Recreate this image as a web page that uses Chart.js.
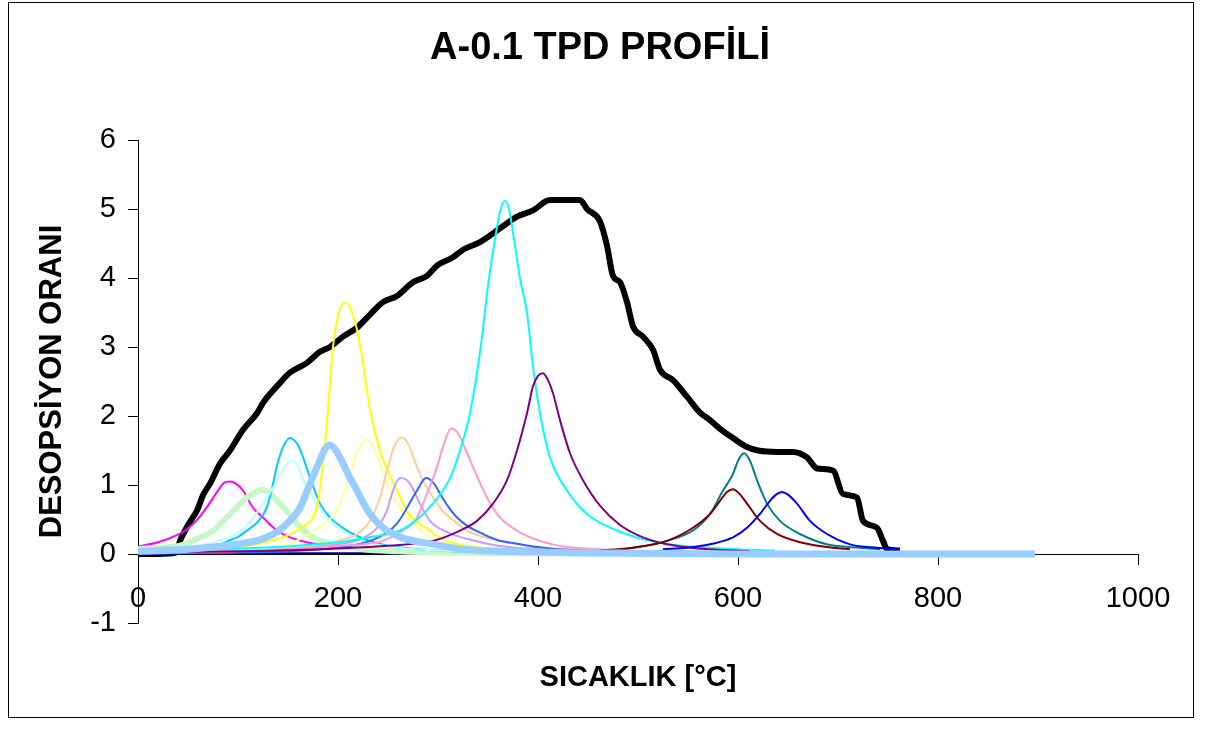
<!DOCTYPE html>
<html>
<head>
<meta charset="utf-8">
<script src="https://cdn.jsdelivr.net/npm/chart.js@4.4.1/dist/chart.umd.min.js"></script>
<style>
  body { margin: 0; background: #fff; }
  canvas { display: block; }
</style>
</head>
<body>
<canvas id="tpdChart" width="1216" height="729"></canvas>
<script>
// temperatures (°C) and desorption rates, one pair per curve
const totalT = [0, 20, 38, 42, 50, 59, 65, 72, 82, 92, 105, 119, 125, 142, 152, 169, 182, 192, 205, 219, 232, 245, 259, 275, 289, 299, 315, 325, 342, 362, 379, 395, 412, 442, 449, 462, 469, 475, 482, 489, 495, 505, 515, 522, 535, 549, 562, 572, 585, 595, 609, 620, 640, 655, 669, 679, 695, 705, 719, 725, 739, 745, 749, 762];
const totalY = [0, 0, 0.02, 0.19, 0.42, 0.63, 0.85, 1.02, 1.31, 1.5, 1.8, 2.04, 2.19, 2.48, 2.63, 2.77, 2.93, 3.0, 3.15, 3.28, 3.47, 3.65, 3.74, 3.94, 4.03, 4.18, 4.3, 4.41, 4.52, 4.72, 4.89, 4.98, 5.13, 5.13, 5.0, 4.82, 4.47, 4.03, 3.94, 3.65, 3.3, 3.15, 2.96, 2.67, 2.52, 2.28, 2.05, 1.94, 1.78, 1.68, 1.55, 1.5, 1.48, 1.48, 1.4, 1.24, 1.21, 0.87, 0.82, 0.48, 0.38, 0.19, 0.07, 0.05];

const magentaT = [0, 20, 40, 50, 60, 70, 80, 86, 92, 98, 105, 115, 125, 139, 152, 172, 200, 240, 300, 360];
const magentaY = [0.11, 0.17, 0.28, 0.37, 0.51, 0.7, 0.92, 1.03, 1.05, 1.02, 0.92, 0.67, 0.53, 0.34, 0.24, 0.16, 0.1, 0.06, 0.03, 0.02];

const greenT = [0, 20, 42, 59, 75, 92, 109, 118, 124, 130, 142, 150, 159, 175, 192, 225, 260, 300, 400, 500, 600, 750, 897];
const greenY = [0.07, 0.09, 0.12, 0.22, 0.34, 0.58, 0.82, 0.9, 0.93, 0.9, 0.73, 0.6, 0.44, 0.24, 0.15, 0.07, 0.04, 0.02, 0.01, 0, 0, 0, 0];

const skyT = [0, 40, 60, 80, 92, 100, 109, 120, 129, 134, 139, 145, 152, 158, 162, 172, 182, 192, 209, 230, 250, 300, 400, 500];
const skyY = [0.03, 0.06, 0.08, 0.13, 0.2, 0.25, 0.34, 0.47, 0.68, 0.95, 1.28, 1.55, 1.68, 1.62, 1.52, 1.11, 0.73, 0.53, 0.34, 0.2, 0.12, 0.05, 0.02, 0.01];

const paleCyanT = [0, 40, 60, 80, 100, 110, 125, 135, 145, 153, 160, 165, 172, 179, 192, 200, 220, 250, 300, 400, 500];
const paleCyanY = [0.05, 0.08, 0.12, 0.19, 0.31, 0.43, 0.73, 0.96, 1.22, 1.36, 1.28, 1.07, 0.9, 0.73, 0.48, 0.38, 0.21, 0.11, 0.05, 0.02, 0.01];

const yellowT = [0, 50, 92, 125, 140, 150, 159, 169, 175, 180, 184, 189, 195, 202, 208, 214, 219, 225, 232, 242, 250, 259, 270, 280, 292, 300, 320, 350, 400, 500, 600];
const yellowY = [0.03, 0.05, 0.09, 0.16, 0.22, 0.27, 0.34, 0.44, 0.52, 0.75, 1.2, 1.9, 3.0, 3.55, 3.64, 3.5, 3.25, 2.77, 2.09, 1.5, 1.2, 0.92, 0.6, 0.45, 0.34, 0.25, 0.14, 0.08, 0.05, 0.02, 0.01];

const lightBlueT = [0, 50, 92, 125, 140, 149, 162, 172, 182, 187, 192, 198, 205, 212, 219, 225, 232, 245, 265, 292, 325, 400, 500, 600, 700, 800, 897];
const lightBlueY = [0.04, 0.07, 0.13, 0.22, 0.33, 0.44, 0.67, 1.02, 1.36, 1.52, 1.58, 1.5, 1.31, 1.1, 0.92, 0.75, 0.58, 0.38, 0.23, 0.15, 0.07, 0.03, 0.01, 0, 0, 0, 0];

const paleYellowT = [0, 100, 150, 165, 182, 190, 199, 209, 220, 228, 235, 239, 249, 259, 275, 300, 330, 400, 500];
const paleYellowY = [0.02, 0.06, 0.14, 0.24, 0.38, 0.48, 0.63, 1.02, 1.5, 1.66, 1.55, 1.4, 1.02, 0.73, 0.44, 0.17, 0.09, 0.03, 0.01];

const peachT = [0, 100, 150, 180, 200, 219, 232, 242, 249, 256, 264, 270, 279, 288, 295, 305, 312, 329, 362, 400, 450, 500, 600];
const peachY = [0.02, 0.04, 0.08, 0.12, 0.19, 0.29, 0.48, 0.82, 1.21, 1.55, 1.69, 1.6, 1.26, 0.98, 0.82, 0.62, 0.53, 0.34, 0.19, 0.1, 0.05, 0.03, 0.01];

const lavenderT = [0, 100, 150, 200, 220, 230, 239, 249, 255, 262, 268, 272, 282, 292, 312, 329, 360, 400, 500, 600];
const lavenderY = [0.01, 0.03, 0.06, 0.14, 0.2, 0.27, 0.38, 0.63, 0.92, 1.1, 1.08, 1.02, 0.73, 0.48, 0.3, 0.22, 0.12, 0.07, 0.02, 0.01];

const royalT = [0, 100, 150, 200, 220, 239, 255, 262, 269, 279, 288, 296, 305, 312, 319, 330, 345, 360, 379, 395, 430, 500, 600];
const royalY = [0.01, 0.02, 0.04, 0.09, 0.14, 0.23, 0.38, 0.5, 0.67, 0.92, 1.1, 1.02, 0.8, 0.65, 0.53, 0.4, 0.29, 0.2, 0.15, 0.11, 0.06, 0.03, 0.01];

const pinkT = [0, 100, 150, 200, 230, 245, 265, 279, 289, 299, 306, 313, 320, 328, 335, 349, 362, 379, 402, 429, 462, 500, 600];
const pinkY = [0.02, 0.04, 0.07, 0.12, 0.15, 0.19, 0.34, 0.53, 0.88, 1.26, 1.6, 1.82, 1.75, 1.5, 1.26, 0.82, 0.53, 0.34, 0.19, 0.1, 0.07, 0.04, 0.02];

const cyanT = [0, 100, 150, 200, 230, 262, 279, 295, 312, 322, 332, 340, 345, 350, 355, 362, 367, 371, 377, 382, 389, 395, 402, 412, 429, 449, 479, 512, 545, 600, 637];
const cyanY = [0.05, 0.08, 0.11, 0.17, 0.24, 0.34, 0.5, 0.73, 1.1, 1.5, 2.04, 2.72, 3.26, 3.89, 4.38, 4.96, 5.12, 5.0, 4.47, 3.99, 3.5, 2.72, 2.04, 1.4, 0.92, 0.58, 0.34, 0.19, 0.12, 0.07, 0.05];

const purpleT = [0, 140, 200, 250, 295, 322, 339, 355, 369, 379, 389, 395, 400, 405, 410, 415, 422, 432, 445, 462, 482, 505, 529, 560, 612];
const purpleY = [0.02, 0.05, 0.08, 0.12, 0.19, 0.34, 0.48, 0.73, 1.07, 1.5, 2.04, 2.43, 2.58, 2.62, 2.52, 2.33, 1.94, 1.46, 1.07, 0.7, 0.42, 0.24, 0.14, 0.08, 0.04];

const tealT = [485, 495, 529, 555, 572, 585, 595, 600, 606, 612, 619, 629, 642, 662, 689, 722, 742];
const tealY = [0.07, 0.09, 0.19, 0.34, 0.58, 0.92, 1.16, 1.35, 1.46, 1.35, 1.07, 0.73, 0.48, 0.29, 0.14, 0.09, 0.07];

const maroonT = [462, 495, 529, 555, 572, 582, 589, 595, 601, 609, 622, 639, 662, 695, 712];
const maroonY = [0.05, 0.09, 0.19, 0.38, 0.58, 0.77, 0.9, 0.94, 0.88, 0.73, 0.48, 0.29, 0.17, 0.09, 0.07];

const blueT = [525, 549, 572, 595, 609, 622, 632, 638, 644, 650, 659, 672, 689, 712, 739, 762];
const blueY = [0.07, 0.09, 0.14, 0.24, 0.38, 0.58, 0.77, 0.86, 0.9, 0.86, 0.73, 0.48, 0.29, 0.14, 0.09, 0.07];

const navyT = [0, 80, 160, 240, 320, 400];
const navyY = [0, 0.01, 0.01, 0.01, 0.02, 0.02];

const xTicks = [0, 200, 400, 600, 800, 1000];
const yTicks = [-1, 0, 1, 2, 3, 4, 5, 6];

const FONT = '"Liberation Sans", Arial, sans-serif';

function pts(xs, ys) {
    return xs.map((t, i) => ({ x: t, y: ys[i] }));
}

function curve(label, xs, ys, color, width) {
    return {
        label: label,
        data: pts(xs, ys),
        borderColor: color,
        backgroundColor: color,
        borderWidth: width,
        pointRadius: 0,
        showLine: true,
        cubicInterpolationMode: 'monotone',
        borderJoinStyle: 'round',
    };
}

// first in the list is drawn on top
const datasets = [
    curve('light blue', lightBlueT, lightBlueY, '#99CCFF', 7),
    curve('blue', blueT, blueY, '#0000FF', 2),
    curve('maroon', maroonT, maroonY, '#800000', 2),
    curve('teal', tealT, tealY, '#008080', 2),
    curve('purple', purpleT, purpleY, '#800080', 2),
    curve('cyan', cyanT, cyanY, '#00FFFF', 2),
    curve('pink', pinkT, pinkY, '#FF99CC', 2),
    curve('royal', royalT, royalY, '#3366FF', 2),
    curve('lavender', lavenderT, lavenderY, '#CC99FF', 2),
    curve('peach', peachT, peachY, '#FFCC99', 2),
    curve('pale yellow', paleYellowT, paleYellowY, '#FFFF99', 2),
    curve('yellow', yellowT, yellowY, '#FFFF00', 2),
    curve('pale cyan', paleCyanT, paleCyanY, '#B8FFFF', 2),
    curve('sky', skyT, skyY, '#00CCFF', 2),
    curve('green', greenT, greenY, '#C6F7C6', 6),
    curve('magenta', magentaT, magentaY, '#FF00FF', 2),
    curve('navy', navyT, navyY, '#000080', 2),
    curve('total', totalT, totalY, '#000000', 6),
];

const frame = {
    id: 'frame',
    beforeDraw(chart) {
        const c = chart.ctx;
        c.save();
        c.fillStyle = '#fff';
        c.fillRect(0, 0, chart.width, chart.height);
        c.strokeStyle = '#000';
        c.lineWidth = 1;
        c.strokeRect(8.5, 2.5, 1185, 715);
        c.restore();
    },
};

const ctx = document.getElementById('tpdChart').getContext('2d');
new Chart(ctx, {
    type: 'scatter',
    data: { datasets: datasets },
    plugins: [frame],
    options: {
        responsive: false,
        animation: false,
        devicePixelRatio: 1,
        layout: { padding: { left: 62, right: 78, top: 0, bottom: 106 } },
        plugins: {
            legend: { display: false },
            tooltip: { enabled: false },
            title: {
                display: true,
                text: 'A-0.1 TPD PROFİLİ',
                color: '#000',
                font: { family: FONT, size: 38, weight: 'bold' },
                padding: { top: 26, bottom: 68.4 },
            },
        },
        scales: {
            x: {
                type: 'linear',
                position: { y: 0 },
                min: 0,
                max: 1000,
                afterBuildTicks: (s) => { s.ticks = xTicks.map((v) => ({ value: v })); },
                grid: { drawOnChartArea: false, drawTicks: true, tickLength: 10, color: '#000' },
                border: { color: '#000', width: 1 },
                ticks: {
                    color: '#000',
                    padding: 17.6,
                    maxRotation: 0,
                    autoSkip: false,
                    callback: (v) => String(v),
                    font: { family: FONT, size: 29 },
                },
                title: {
                    display: true,
                    text: 'SICAKLIK [°C]',
                    color: '#000',
                    font: { family: FONT, size: 29, weight: 'bold' },
                    padding: { top: 26.6, bottom: 0 },
                },
            },
            y: {
                type: 'linear',
                position: 'left',
                min: -1,
                max: 6,
                afterBuildTicks: (s) => { s.ticks = yTicks.map((v) => ({ value: v })); },
                afterFit: (s) => { s.width = 76; },
                grid: { drawOnChartArea: false, drawTicks: true, tickLength: 10, color: '#000' },
                border: { color: '#000', width: 1 },
                ticks: {
                    color: '#000',
                    padding: 12,
                    callback: (v) => String(v),
                    font: { family: FONT, size: 29 },
                },
                title: {
                    display: true,
                    text: 'DESOPSİYON ORANI',
                    color: '#000',
                    font: { family: FONT, size: 31, weight: 'bold' },
                    padding: { top: -28.6, bottom: 0 },
                },
            },
        },
    },
});
</script>
</body>
</html>
